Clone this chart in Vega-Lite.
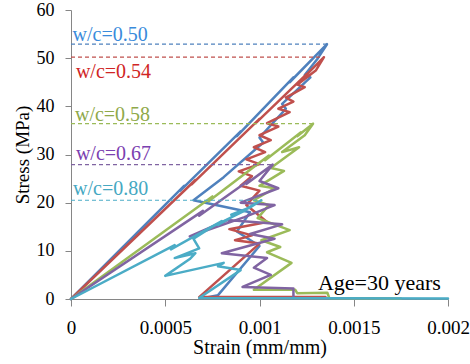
{
  "$schema": "https://vega.github.io/schema/vega-lite/v6.json",
  "width": 377,
  "height": 289,
  "autosize": {"type": "none"},
  "padding": {"left": 71, "top": 10, "right": 22, "bottom": 65},
  "config": {
    "view": {"stroke": null},
    "font": "Liberation Serif",
    "axis": {"grid": false, "domainColor": "#868686", "tickColor": "#868686", "labelColor": "#000000", "titleColor": "#000000", "labelFont": "Liberation Serif", "titleFont": "Liberation Serif", "titleFontWeight": "normal"}
  },
  "datasets": {
    "curves": [
      {"wc":"0.50","i":0,"strain":0,"stress":0},
      {"wc":"0.50","i":1,"strain":0.00060,"stress":23.5},
      {"wc":"0.50","i":2,"strain":0.00058,"stress":22.5},
      {"wc":"0.50","i":3,"strain":0.00090,"stress":34.8},
      {"wc":"0.50","i":4,"strain":0.00088,"stress":33.8},
      {"wc":"0.50","i":5,"strain":0.00118,"stress":46.0},
      {"wc":"0.50","i":6,"strain":0.00116,"stress":45.0},
      {"wc":"0.50","i":7,"strain":0.001358,"stress":52.9},
      {"wc":"0.50","i":8,"strain":0.00131,"stress":50.0},
      {"wc":"0.50","i":9,"strain":0.00124,"stress":46.5},
      {"wc":"0.50","i":10,"strain":0.00127,"stress":46.0},
      {"wc":"0.50","i":11,"strain":0.00112,"stress":40.5},
      {"wc":"0.50","i":12,"strain":0.00114,"stress":39.5},
      {"wc":"0.50","i":13,"strain":0.00100,"stress":33.5},
      {"wc":"0.50","i":14,"strain":0.00102,"stress":32.5},
      {"wc":"0.50","i":15,"strain":0.00081,"stress":25.3},
      {"wc":"0.50","i":16,"strain":0.00065,"stress":20.5},
      {"wc":"0.50","i":17,"strain":0.00095,"stress":18.0},
      {"wc":"0.50","i":18,"strain":0.00088,"stress":14.0},
      {"wc":"0.50","i":19,"strain":0.00100,"stress":11.0},
      {"wc":"0.50","i":20,"strain":0.00078,"stress":0.8},
      {"wc":"0.50","i":21,"strain":0.00072,"stress":0.3},
      {"wc":"0.50","i":22,"strain":0.00120,"stress":0.3},

      {"wc":"0.54","i":0,"strain":0,"stress":0},
      {"wc":"0.54","i":1,"strain":0.00066,"stress":24.7},
      {"wc":"0.54","i":2,"strain":0.00064,"stress":23.8},
      {"wc":"0.54","i":3,"strain":0.00100,"stress":37.4},
      {"wc":"0.54","i":4,"strain":0.00098,"stress":36.5},
      {"wc":"0.54","i":5,"strain":0.00125,"stress":46.7},
      {"wc":"0.54","i":6,"strain":0.00123,"stress":45.8},
      {"wc":"0.54","i":7,"strain":0.001342,"stress":50.2},
      {"wc":"0.54","i":8,"strain":0.00130,"stress":47.5},
      {"wc":"0.54","i":9,"strain":0.00120,"stress":44.5},
      {"wc":"0.54","i":10,"strain":0.00124,"stress":44.0},
      {"wc":"0.54","i":11,"strain":0.00114,"stress":41.8},
      {"wc":"0.54","i":12,"strain":0.00118,"stress":41.0},
      {"wc":"0.54","i":13,"strain":0.00110,"stress":39.5},
      {"wc":"0.54","i":14,"strain":0.00116,"stress":38.8},
      {"wc":"0.54","i":15,"strain":0.00104,"stress":36.5},
      {"wc":"0.54","i":16,"strain":0.00110,"stress":35.8},
      {"wc":"0.54","i":17,"strain":0.00100,"stress":34.0},
      {"wc":"0.54","i":18,"strain":0.00106,"stress":33.0},
      {"wc":"0.54","i":19,"strain":0.00097,"stress":31.5},
      {"wc":"0.54","i":20,"strain":0.00103,"stress":30.5},
      {"wc":"0.54","i":21,"strain":0.00093,"stress":29.0},
      {"wc":"0.54","i":22,"strain":0.00100,"stress":28.0},
      {"wc":"0.54","i":23,"strain":0.00089,"stress":26.5},
      {"wc":"0.54","i":24,"strain":0.00096,"stress":25.5},
      {"wc":"0.54","i":25,"strain":0.00090,"stress":23.5},
      {"wc":"0.54","i":26,"strain":0.00100,"stress":22.5},
      {"wc":"0.54","i":27,"strain":0.00093,"stress":19.5},
      {"wc":"0.54","i":28,"strain":0.00104,"stress":16.0},
      {"wc":"0.54","i":29,"strain":0.00084,"stress":14.5},
      {"wc":"0.54","i":30,"strain":0.00096,"stress":13.2},
      {"wc":"0.54","i":31,"strain":0.00087,"stress":12.2},
      {"wc":"0.54","i":32,"strain":0.00100,"stress":11.5},
      {"wc":"0.54","i":33,"strain":0.00068,"stress":0.4},
      {"wc":"0.54","i":34,"strain":0.00135,"stress":0.4},

      {"wc":"0.58","i":0,"strain":0,"stress":0},
      {"wc":"0.58","i":1,"strain":0.00075,"stress":21.3},
      {"wc":"0.58","i":2,"strain":0.00073,"stress":20.3},
      {"wc":"0.58","i":3,"strain":0.00105,"stress":29.8},
      {"wc":"0.58","i":4,"strain":0.00103,"stress":28.8},
      {"wc":"0.58","i":5,"strain":0.00122,"stress":34.6},
      {"wc":"0.58","i":6,"strain":0.00120,"stress":33.8},
      {"wc":"0.58","i":7,"strain":0.001284,"stress":36.4},
      {"wc":"0.58","i":8,"strain":0.00124,"stress":34.0},
      {"wc":"0.58","i":9,"strain":0.00112,"stress":30.5},
      {"wc":"0.58","i":10,"strain":0.00121,"stress":31.5},
      {"wc":"0.58","i":11,"strain":0.00106,"stress":27.2},
      {"wc":"0.58","i":12,"strain":0.00113,"stress":26.6},
      {"wc":"0.58","i":13,"strain":0.00100,"stress":23.5},
      {"wc":"0.58","i":14,"strain":0.00108,"stress":23.0},
      {"wc":"0.58","i":15,"strain":0.00097,"stress":20.5},
      {"wc":"0.58","i":16,"strain":0.00105,"stress":19.5},
      {"wc":"0.58","i":17,"strain":0.00099,"stress":16.8},
      {"wc":"0.58","i":18,"strain":0.00116,"stress":14.3},
      {"wc":"0.58","i":19,"strain":0.00101,"stress":12.2},
      {"wc":"0.58","i":20,"strain":0.00111,"stress":10.8},
      {"wc":"0.58","i":21,"strain":0.00104,"stress":9.7},
      {"wc":"0.58","i":22,"strain":0.00117,"stress":7.5},
      {"wc":"0.58","i":23,"strain":0.00097,"stress":1.9},
      {"wc":"0.58","i":24,"strain":0.00119,"stress":1.9},
      {"wc":"0.58","i":25,"strain":0.00120,"stress":1.2},
      {"wc":"0.58","i":26,"strain":0.00136,"stress":1.3},
      {"wc":"0.58","i":27,"strain":0.00137,"stress":0.2},
      {"wc":"0.58","i":28,"strain":0.00175,"stress":0.1},

      {"wc":"0.67","i":0,"strain":0,"stress":0},
      {"wc":"0.67","i":1,"strain":0.00070,"stress":18.3},
      {"wc":"0.67","i":2,"strain":0.00068,"stress":17.3},
      {"wc":"0.67","i":3,"strain":0.00095,"stress":24.8},
      {"wc":"0.67","i":4,"strain":0.00093,"stress":23.9},
      {"wc":"0.67","i":5,"strain":0.00107,"stress":27.9},
      {"wc":"0.67","i":6,"strain":0.00100,"stress":24.5},
      {"wc":"0.67","i":7,"strain":0.00110,"stress":23.0},
      {"wc":"0.67","i":8,"strain":0.00090,"stress":20.0},
      {"wc":"0.67","i":9,"strain":0.00108,"stress":19.5},
      {"wc":"0.67","i":10,"strain":0.00092,"stress":17.0},
      {"wc":"0.67","i":11,"strain":0.00063,"stress":13.0},
      {"wc":"0.67","i":12,"strain":0.00083,"stress":16.4},
      {"wc":"0.67","i":13,"strain":0.00112,"stress":15.5},
      {"wc":"0.67","i":14,"strain":0.00095,"stress":13.5},
      {"wc":"0.67","i":15,"strain":0.00108,"stress":12.5},
      {"wc":"0.67","i":16,"strain":0.00080,"stress":9.5},
      {"wc":"0.67","i":17,"strain":0.00104,"stress":8.5},
      {"wc":"0.67","i":18,"strain":0.00097,"stress":6.5},
      {"wc":"0.67","i":19,"strain":0.00106,"stress":5.0},
      {"wc":"0.67","i":20,"strain":0.00091,"stress":2.5},
      {"wc":"0.67","i":21,"strain":0.00118,"stress":2.2},
      {"wc":"0.67","i":22,"strain":0.00118,"stress":0.4},

      {"wc":"0.80","i":0,"strain":0,"stress":0},
      {"wc":"0.80","i":1,"strain":0.00055,"stress":11.2},
      {"wc":"0.80","i":2,"strain":0.00053,"stress":10.3},
      {"wc":"0.80","i":3,"strain":0.00080,"stress":16.2},
      {"wc":"0.80","i":4,"strain":0.00078,"stress":15.4},
      {"wc":"0.80","i":5,"strain":0.00101,"stress":20.5},
      {"wc":"0.80","i":6,"strain":0.00095,"stress":19.0},
      {"wc":"0.80","i":7,"strain":0.00085,"stress":17.5},
      {"wc":"0.80","i":8,"strain":0.00093,"stress":18.5},
      {"wc":"0.80","i":9,"strain":0.00075,"stress":15.0},
      {"wc":"0.80","i":10,"strain":0.00065,"stress":12.5},
      {"wc":"0.80","i":11,"strain":0.00068,"stress":10.5},
      {"wc":"0.80","i":12,"strain":0.00055,"stress":8.5},
      {"wc":"0.80","i":13,"strain":0.00066,"stress":9.5},
      {"wc":"0.80","i":14,"strain":0.00063,"stress":8.3},
      {"wc":"0.80","i":15,"strain":0.00050,"stress":4.8},
      {"wc":"0.80","i":16,"strain":0.00081,"stress":7.5},
      {"wc":"0.80","i":17,"strain":0.00078,"stress":6.8},
      {"wc":"0.80","i":18,"strain":0.00090,"stress":6.0},
      {"wc":"0.80","i":19,"strain":0.00068,"stress":0.2},
      {"wc":"0.80","i":20,"strain":0.00200,"stress":0.1}
    ],
    "peaks": [
      {"wc":"0.50","x0":0,"strain":0.001358,"stress":52.9,"label":"w/c=0.50","lx":0.000008,"ly":53.6},
      {"wc":"0.54","x0":0,"strain":0.001342,"stress":50.2,"label":"w/c=0.54","lx":0.000026,"ly":45.9},
      {"wc":"0.58","x0":0,"strain":0.001284,"stress":36.4,"label":"w/c=0.58","lx":0.000021,"ly":37.0},
      {"wc":"0.67","x0":0,"strain":0.00107,"stress":27.9,"label":"w/c=0.67","lx":0.000026,"ly":28.9},
      {"wc":"0.80","x0":0,"strain":0.00101,"stress":20.5,"label":"w/c=0.80","lx":0.000011,"ly":21.6}
    ],
    "note": [
      {"label":"Age=30 years","x":0.00131,"y":1.87}
    ]
  },
  "layer": [
    {
      "data": {"name": "curves"},
      "mark": {"type": "line", "strokeWidth": 2.5, "strokeJoin": "round", "strokeCap": "round"},
      "encoding": {
        "x": {"field": "strain", "type": "quantitative",
          "scale": {"domain": [0, 0.002], "nice": false},
          "axis": {"values": [0, 0.0005, 0.001, 0.0015, 0.002], "format": "~g", "title": "Strain (mm/mm)",
            "labelFont": "Liberation Serif", "titleFont": "Liberation Serif",
            "labelFontSize": 19, "titleFontSize": 20, "tickSize": 7, "labelPadding": 12, "titlePadding": 0, "labelFlush": false}},
        "y": {"field": "stress", "type": "quantitative",
          "scale": {"domain": [0, 60], "nice": false},
          "axis": {"values": [0, 10, 20, 30, 40, 50, 60], "title": "Stress (MPa)",
            "labelFont": "Liberation Serif", "titleFont": "Liberation Serif",
            "labelFontSize": 18, "titleFontSize": 19, "tickSize": 6, "labelPadding": 11, "titlePadding": 4}},
        "order": {"field": "i", "type": "quantitative"},
        "color": {"field": "wc", "type": "nominal", "legend": null,
          "scale": {"domain": ["0.50","0.54","0.58","0.67","0.80"], "range": ["#4F81BD","#C0504D","#9BBB59","#8064A2","#4BACC6"]}}
      }
    },
    {
      "data": {"name": "peaks"},
      "mark": {"type": "rule", "strokeDash": [4, 3], "strokeWidth": 1.2},
      "encoding": {
        "x": {"field": "x0", "type": "quantitative"},
        "x2": {"field": "strain"},
        "y": {"field": "stress", "type": "quantitative"},
        "color": {"field": "wc", "type": "nominal", "legend": null}
      }
    },
    {
      "data": {"name": "peaks"},
      "mark": {"type": "text", "align": "left", "baseline": "alphabetic", "fontSize": 20, "font": "Liberation Serif"},
      "encoding": {
        "x": {"field": "lx", "type": "quantitative"},
        "y": {"field": "ly", "type": "quantitative"},
        "text": {"field": "label"},
        "fill": {"field": "wc", "type": "nominal", "legend": null,
          "scale": {"domain": ["0.50","0.54","0.58","0.67","0.80"], "range": ["#3A8BDB","#D02525","#8FA94A","#7B40B0","#45A8C2"]}}
      }
    },
    {
      "data": {"name": "note"},
      "mark": {"type": "text", "align": "left", "baseline": "alphabetic", "fontSize": 22, "font": "Liberation Serif", "color": "#000000"},
      "encoding": {
        "x": {"field": "x", "type": "quantitative"},
        "y": {"field": "y", "type": "quantitative"},
        "text": {"field": "label"}
      }
    }
  ]
}
